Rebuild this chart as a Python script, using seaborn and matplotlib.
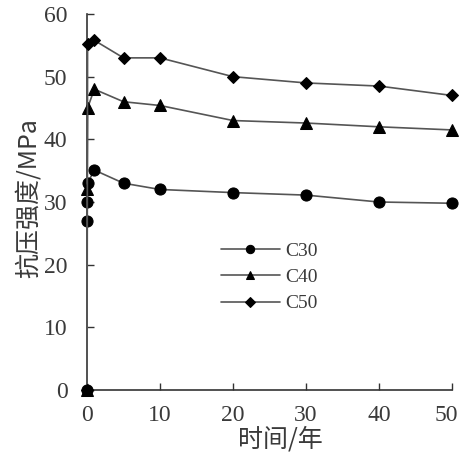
import matplotlib
matplotlib.use("Agg")
import matplotlib.pyplot as plt
import matplotlib.transforms as mtransforms
import seaborn as sns
import pandas as pd

# Data (time in years, compressive strength in MPa)
c30_t = [0, 0.005, 0.02, 0.08, 1, 5, 10, 20, 30, 40, 50]
c30_v = [0, 27.0, 30.0, 33.0, 35.1, 33.0, 32.0, 31.5, 31.1, 30.0, 29.8]
c40_t = [0, 0.02, 0.08, 1, 5, 10, 20, 30, 40, 50]
c40_v = [0, 32.0, 45.0, 48.0, 46.0, 45.4, 43.0, 42.6, 42.0, 41.5]
c50_t = [0, 0.08, 1, 5, 10, 20, 30, 40, 50]
c50_v = [0, 55.2, 55.8, 53.0, 53.0, 50.0, 49.0, 48.5, 47.0]
series_names = ["C30", "C40", "C50"]
x_ticks = [0, 10, 20, 30, 40, 50]
y_ticks = [0, 10, 20, 30, 40, 50, 60]

sns.set_style("ticks")
plt.rcParams['font.family'] = ['Liberation Serif', 'Noto Sans CJK SC', 'DejaVu Sans']

fig = plt.figure(figsize=(4.62, 4.55), dpi=100)
ax = fig.add_axes([87/462, 65/455, 365/462, 376/455])

frames = []
for name, t, v in zip(series_names, [c30_t, c40_t, c50_t], [c30_v, c40_v, c50_v]):
    frames.append(pd.DataFrame({"t": t, "v": v, "s": name}))
df = pd.concat(frames, ignore_index=True)

markers = {"C30": "o", "C40": "^", "C50": "D"}
msizes = {"C30": 8, "C40": 8, "C50": 6.5}
for name in series_names:
    sub = df[df.s == name]
    sns.lineplot(data=sub, x="t", y="v", ax=ax, estimator=None, sort=False,
                 color="#555555", linewidth=1.2, marker=markers[name],
                 markersize=msizes[name], markerfacecolor="black",
                 markeredgecolor="black", label=name, clip_on=False, zorder=3)

ax.set_xlim(0, 50)
ax.set_ylim(0, 60)
ax.set_xticks(x_ticks)
ax.set_yticks(y_ticks)
ax.tick_params(direction="in", length=5, width=1, colors="#333333",
               labelsize=17, labelcolor="#3a3a3a")
ax.tick_params(axis="x", pad=11)
ax.tick_params(axis="y", pad=14)
sns.despine(ax=ax)
for sp in ["left", "bottom"]:
    ax.spines[sp].set_color("#333333")
    ax.spines[sp].set_linewidth(1.2)

# nudge the last x tick label left so it stays inside the figure
last = ax.get_xticklabels()[-1]
last.set_transform(last.get_transform() +
                   mtransforms.ScaledTranslation(-6/100, 0, fig.dpi_scale_trans))

cjk = ['Noto Sans CJK SC', 'DejaVu Sans']
ax.set_xlabel("时间/年", fontsize=18, color="#3a3a3a", family=cjk)
ax.set_ylabel("抗压强度/MPa", fontsize=18, color="#3a3a3a", family=cjk)
ax.xaxis.set_label_coords(0.53, -0.098)
ax.yaxis.set_label_coords(-0.125, 0.51)

leg = ax.legend(loc="center", bbox_to_anchor=(0.50, 0.30), frameon=False,
                fontsize=14, handlelength=3.0, labelspacing=0.45,
                markerscale=0.75, handletextpad=0.3)
for txt in leg.get_texts():
    txt.set_color("#3a3a3a")

fig.savefig("out.png", dpi=100)
